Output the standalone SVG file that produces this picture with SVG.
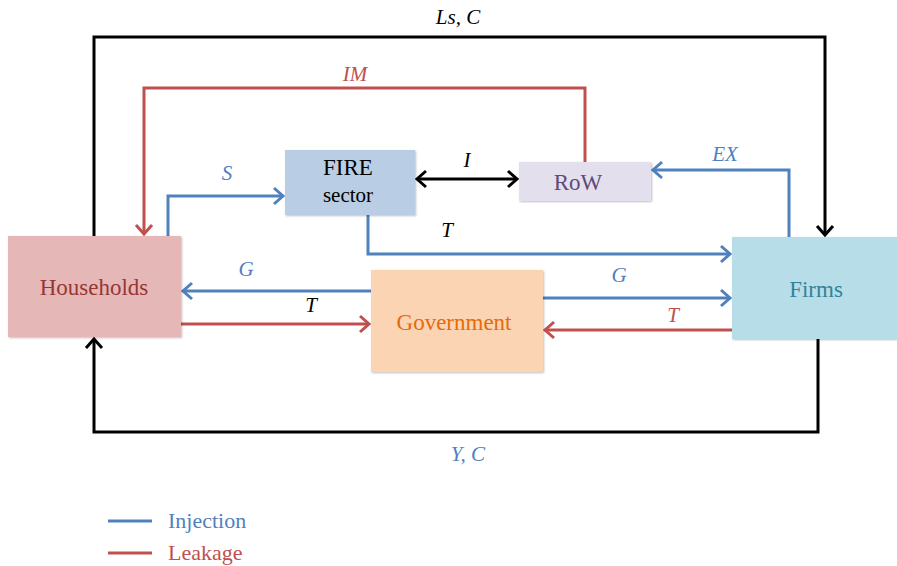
<svg xmlns="http://www.w3.org/2000/svg" width="897" height="566" viewBox="0 0 897 566">
<style>
text{font-family:"Liberation Serif","DejaVu Serif",serif;}
.lbl{font-size:21px;font-style:italic;text-anchor:middle;}
.node{font-size:23px;text-anchor:middle;}
.c{fill:none;stroke-width:3;}
.k{stroke:#000;}
.b{stroke:#4f81bd;}
.r{stroke:#c0504d;}
</style>
<defs>
<marker id="ak" markerUnits="userSpaceOnUse" markerWidth="14" markerHeight="20" refX="11" refY="10" orient="auto-start-reverse"><path d="M2,2 L11,10 L2,18" fill="none" stroke="#000" stroke-width="3"/></marker>
<marker id="ab" markerUnits="userSpaceOnUse" markerWidth="14" markerHeight="20" refX="11" refY="10" orient="auto"><path d="M2,2 L11,10 L2,18" fill="none" stroke="#4f81bd" stroke-width="3"/></marker>
<marker id="ar" markerUnits="userSpaceOnUse" markerWidth="14" markerHeight="20" refX="11" refY="10" orient="auto"><path d="M2,2 L11,10 L2,18" fill="none" stroke="#c0504d" stroke-width="3"/></marker>
<filter id="sh" x="-5%" y="-5%" width="110%" height="110%"><feDropShadow dx="1" dy="1" stdDeviation="1" flood-color="#000" flood-opacity="0.25"/></filter>
</defs>
<g id="connectors">
<path class="c k" d="M94,236 V37 H825 V235" marker-end="url(#ak)"/>
<path class="c k" d="M818,339 V432 H94 V339" marker-end="url(#ak)"/>
<path class="c r" d="M585,162 V88 H144 V234" marker-end="url(#ar)"/>
<path class="c b" d="M168,236 V196 H283" marker-end="url(#ab)"/>
<path class="c k" d="M417,179 H517" marker-start="url(#ak)" marker-end="url(#ak)"/>
<path class="c b" d="M789,237 V170 H653" marker-end="url(#ab)"/>
<path class="c b" d="M368,215 V254 H730" marker-end="url(#ab)"/>
<path class="c b" d="M371,291 H183" marker-end="url(#ab)"/>
<path class="c r" d="M181,324 H369" marker-end="url(#ar)"/>
<path class="c b" d="M543,298 H730" marker-end="url(#ab)"/>
<path class="c r" d="M732,330 H545" marker-end="url(#ar)"/>
<text class="lbl" x="458" y="24">Ls, C</text>
<text class="lbl" x="468" y="461" fill="#4f81bd">Y, C</text>
<text class="lbl" x="355" y="81" fill="#c0504d">IM</text>
<text class="lbl" x="227" y="180" fill="#4f81bd">S</text>
<text class="lbl" x="467" y="167">I</text>
<text class="lbl" x="725" y="161" fill="#4f81bd">EX</text>
<text class="lbl" x="447" y="237">T</text>
<text class="lbl" x="246" y="276" fill="#4f81bd">G</text>
<text class="lbl" x="311" y="312">T</text>
<text class="lbl" x="619" y="282" fill="#4f81bd">G</text>
<text class="lbl" x="673" y="322" fill="#c0504d">T</text>
</g>
<g id="households">
<rect x="8" y="236" width="173" height="101" fill="#e5b8b7" filter="url(#sh)"/>
<text class="node" x="94" y="295" fill="#953735">Households</text>
</g>
<g id="fire">
<rect x="285" y="150" width="130" height="65" fill="#b9cde5" filter="url(#sh)"/>
<text class="node" x="348" y="175" fill="#000">FIRE</text>
<text class="node" x="348" y="202" fill="#000" style="font-size:21px">sector</text>
</g>
<g id="row">
<rect x="519" y="162" width="132" height="39" fill="#e4dfec" filter="url(#sh)"/>
<text class="node" x="578" y="190" fill="#5f497a">RoW</text>
</g>
<g id="government">
<rect x="371" y="270" width="172" height="102" fill="#fbd4b4" filter="url(#sh)"/>
<text class="node" x="454" y="330" fill="#e46c0a">Government</text>
</g>
<g id="firms">
<rect x="732" y="237" width="165" height="102" fill="#b7dde8" filter="url(#sh)"/>
<text class="node" x="816" y="297" fill="#31849b">Firms</text>
</g>
<g id="legend">
<line x1="108" y1="521" x2="152" y2="521" stroke="#4f81bd" stroke-width="3"/>
<line x1="108" y1="553" x2="152" y2="553" stroke="#c0504d" stroke-width="3"/>
<text x="168" y="528" fill="#4f81bd" style="font-size:22px">Injection</text>
<text x="168" y="560" fill="#c0504d" style="font-size:22px">Leakage</text>
</g>
</svg>
